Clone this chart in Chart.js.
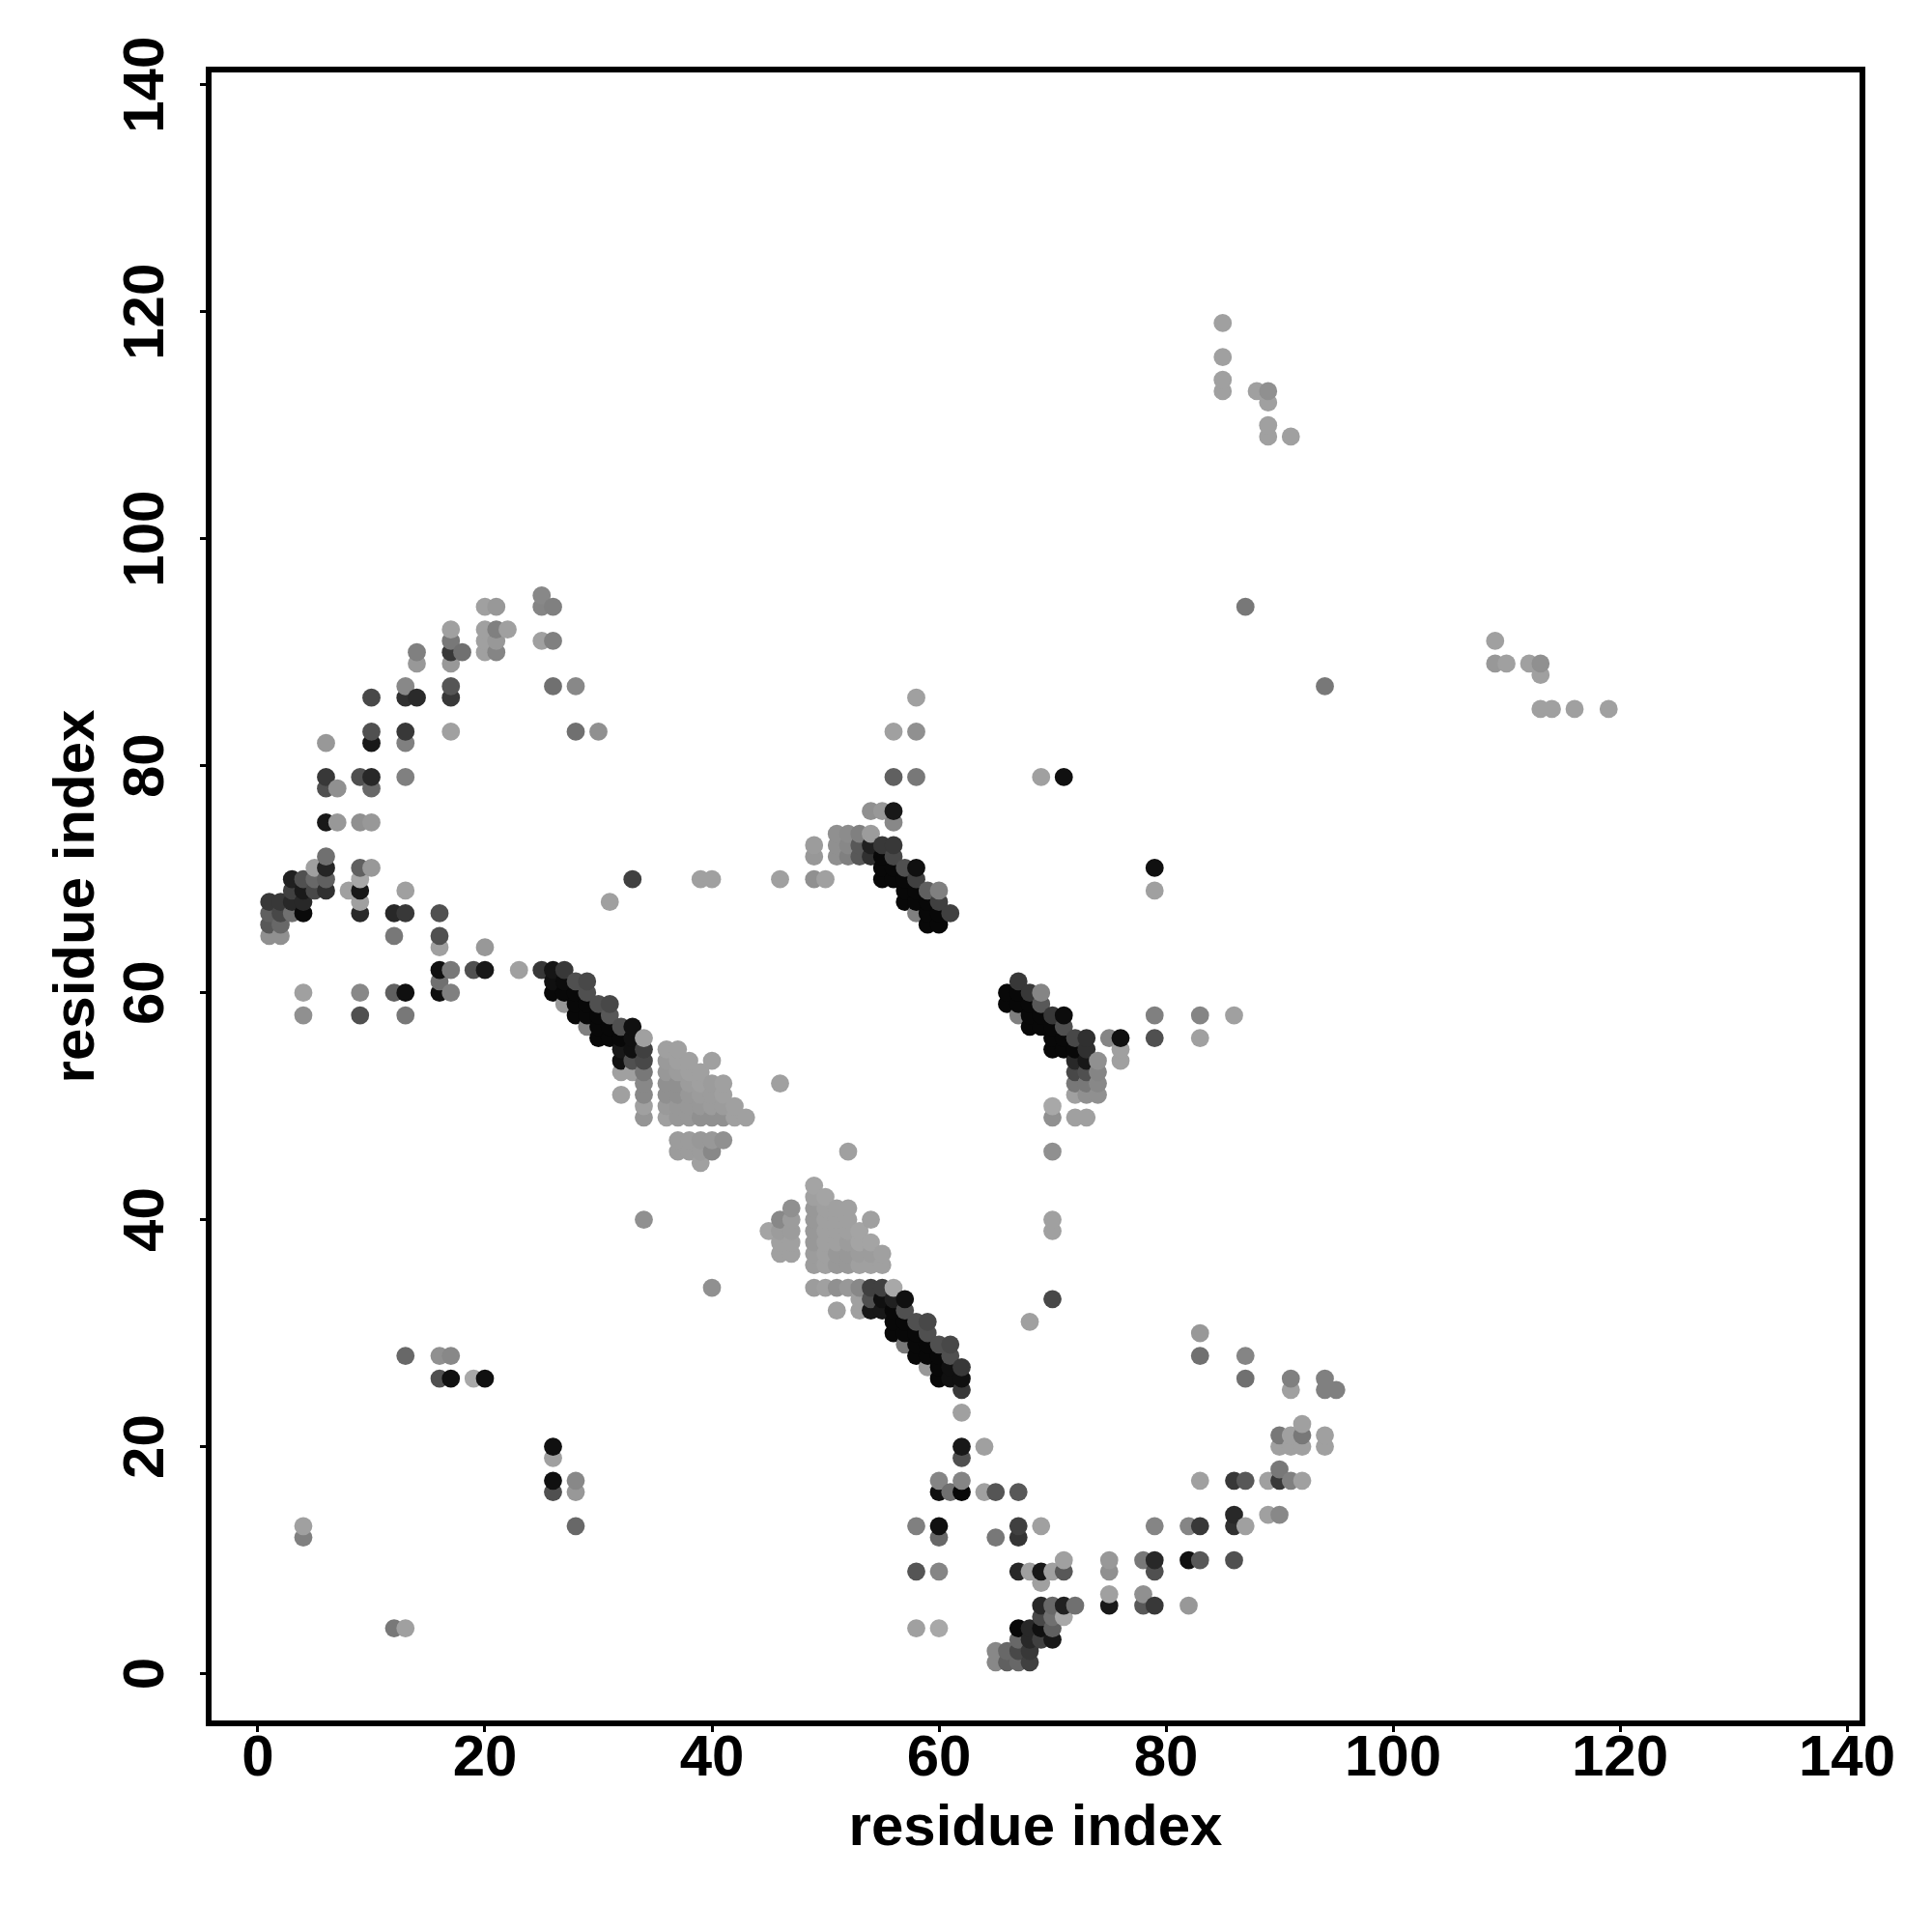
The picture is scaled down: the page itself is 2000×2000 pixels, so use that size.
<!DOCTYPE html>
<html>
<head>
<meta charset="utf-8">
<title>residue contact map</title>
<script src="https://cdn.jsdelivr.net/npm/chart.js@4/dist/chart.umd.min.js"></script>
<style>html,body{margin:0;padding:0;background:#fff}canvas{display:block}</style>
</head>
<body>
<canvas id="c" width="2000" height="2000"></canvas>
<script>
const axisTicks=[0,20,40,60,80,100,120,140];
const xLabel="residue index";
const yLabel="residue index";
const rowIndex=[
119,116,114,113,112,110,109,95,94,92,91,90,89,88,87,86,85,83,82,79,78,76,75,74,73,72,71,70,69,68,67,66,65,64,62,61,60,59,58,57,56,55,54,53,52,51,50,49,47,46,45,
43,42,41,40,39,38,37,36,34,33,32,31,30,29,28,27,26,25,23,22,21,20,19,18,17,16,14,13,12,10,9,8,7,6,5,4,3,2,1];
const rowResidues=[
[85],[85],[85],[85,88,89],[89],[89],[89,91],
[25],[20,21,25,26,87],[17,20,21,22],[17,20,21,25,26,109],[14,17,18,20,21],[14,17,109,110,112,113],[113],
[13,17,26,28,94],[10,13,14,17,58],[113,114,116,119],[10,13,17,28,30,56,58],[6,10,13],
[6,9,10,13,56,58,69,71],[6,7,10],[54,55,56],[6,7,9,10,56],[51,52,53,54],
[49,51,52,53,54,55,56],[6,49,51,52,53,54,55,56],[5,6,9,10,55,56,57,58,79],
[3,4,5,6,9,33,39,40,46,49,50,55,56,57,58],[3,4,5,6,8,9,13,57,58,59,60,79],
[1,2,3,4,9,31,57,58,59,60],[1,2,3,4,9,12,13,16,58,59,60,61],[1,2,59,60],[1,2,12,16],[16,20],
[16,17,19,20,23,25,26,27],[16,26,27,28,29,67],[4,9,12,13,16,17,26,27,28,29,66,67,68,69],
[27,28,29,30,31,66,67,68,69],[4,9,13,28,29,30,31,67,68,69,70,71,79,83,86],
[29,30,31,32,33,68,69,70,71],[30,31,32,33,34,70,71,72,73,75,76,79,83],
[32,33,34,36,37,70,71,72,73,76],[32,33,34,36,37,38,40,72,73,74,76],
[32,33,34,36,37,38,39,72,73,74],[34,36,37,38,39,40,41,46,72,73,74],
[32,34,36,37,38,39,40,41,72,73,74],[34,36,37,38,39,40,41,42,70],
[34,36,37,38,39,40,41,42,43,70,72,73],[37,38,39,40,41],[37,38,39,40,52,70],[39],
[49],[49,50],[47,49,50,51,52],[34,46,47,49,50,51,52,54,70],[45,46,47,49,50,51,52,53,70],
[46,47,49,50,51,52,53,54],[46,47,49,50,51,52,53,54,55],[49,50,51,52,53,54,55],
[40,49,50,51,52,53,54,55,56],[53,54,55,56,57,70],[51,53,54,55,56,57],[56,57,58,59,68],
[56,57,58,59,83],[57,58,59,60,61],[13,16,17,58,59,60,61,83,87],[59,60,61,62],
[16,17,19,20,60,61,62,87,91,94],[62,91,94,95],[62],[92],[90,91,92,94],
[26,62,64,90,91,92,94],[26,62],[90],[26,28,60,62,83,86,87,89,90,91,92],
[26,28,60,61,62,64,65,67],[86,89,90],[4,28,58,60,67,69,79,82,83,86,87],[4,60,65,67],
[71,75,78,79,82,83,86],[58,60,67,68,69,70,71,75,79],[69],[75,78],[69,70,71,72,75,78,79,82],
[69,70,71],[12,13,58,60,67,68,69,70],[67,68,69,70],[65,66,67,68],[65,66,67,68]];
const rowShades=[
[0xa0],[0xa0],[0xa0],[0xa0,0xa0,0x90],[0xa0],[0xa0],[0xa0,0xa0],
[0x88],[0xa0,0x98,0x85,0x80,0x78],[0xa0,0xa0,0x80,0xa0],[0x78,0xa0,0x98,0xa0,0x80,0xa0],[0x80,0x38,0x70,0xa0,0x85],[0x98,0x98,0x98,0xa0,0xa0,0x90],[0xa0],
[0x88,0x55,0x70,0x88,0x78],[0x48,0x30,0x2a,0x38,0xa0],[0xa0,0xa0,0xa0,0xa0],[0x50,0x38,0xa0,0x70,0x90,0xa0,0x90],[0x98,0x18,0x80],
[0x38,0x50,0x28,0x80,0x60,0x78,0xa0,0x10],[0x50,0x90,0x68],[0x90,0x98,0x18],[0x18,0x98,0x90,0x98,0x88],[0x90,0x8c,0x80,0x9c],
[0x9c,0x90,0x88,0x58,0x20,0x38,0x38],[0x70,0x98,0x90,0x80,0x58,0x30,0x08,0x48],[0xa0,0x25,0x60,0x98,0x08,0x08,0x50,0x10,0x10],
[0x20,0x50,0x68,0x60,0xa8,0x40,0xa0,0xa0,0xa0,0x90,0xa0,0x08,0x08,0x08,0x40],[0x40,0x1a,0x48,0x30,0xa0,0x18,0xa0,0x08,0x08,0x60,0x80,0xa0],
[0x38,0x38,0x28,0x28,0xa0,0xa0,0x08,0x08,0x08,0x40],[0x60,0x48,0x70,0x0a,0x28,0x28,0x38,0x50,0x80,0x08,0x08,0x40],[0x58,0x68,0x08,0x08],[0x90,0x90,0x78,0x50],[0xa0,0x98],
[0x10,0x78,0x50,0x18,0xa0,0x38,0x15,0x38],[0x70,0x10,0x0c,0x50,0x48,0x38],[0xa0,0x88,0x60,0x10,0x10,0x80,0x08,0x08,0x08,0x50,0x08,0x08,0x38,0x85],
[0x98,0x08,0x08,0x50,0x48,0x08,0x08,0x08,0x58],[0x90,0x50,0x78,0x08,0x08,0x08,0x58,0x80,0x08,0x08,0x38,0x0c,0x80,0x85,0xa0],
[0x80,0x08,0x08,0x50,0x10,0x08,0x08,0x08,0x50],[0x08,0x08,0x08,0x10,0xa0,0x08,0x08,0x48,0x30,0x85,0x10,0x50,0xa0],
[0x18,0x10,0x40,0xa0,0xa0,0x08,0x08,0x08,0x30,0xa0],[0x10,0x50,0x48,0x9a,0xa0,0xa0,0xa0,0x28,0x18,0x90,0xa0],
[0xa0,0xa0,0x78,0x98,0x9c,0xa0,0xa0,0x48,0x50,0x85],[0x88,0x90,0x90,0x9c,0xa0,0x9c,0xa0,0xa0,0x78,0x78,0x88],
[0xa0,0x88,0x90,0x90,0x98,0x9c,0x9c,0xa0,0xa0,0x90,0x90],[0xa0,0x9a,0x98,0x98,0x98,0x9c,0x9c,0xa0,0xa8],
[0x95,0xa0,0x98,0x98,0x90,0x90,0x90,0xa0,0xa0,0x90,0xa0,0xa0],[0x9c,0x9c,0x98,0x98,0x90],[0x9c,0x9c,0x9c,0x88,0xa0,0x90],[0xa0],
[0xa4],[0xa0,0xa4],[0x90,0x98,0xa0,0xa0,0xa0],[0x90,0x88,0x9c,0x98,0xa0,0xa0,0xa0,0xa0,0xa0],[0xa4,0x9c,0x9c,0x98,0xa0,0xa0,0xa0,0xa4,0xa0],
[0xa0,0xa0,0x98,0xa0,0xa0,0x9c,0xa4,0xa4],[0xa0,0xa0,0x9c,0xa0,0x98,0x98,0x9c,0x9c,0xa0],[0x9c,0xa0,0x98,0x98,0xa0,0xa0,0xa0],
[0x90,0x9c,0xa0,0x90,0x98,0x88,0x40,0x40,0xa8],[0xa0,0x50,0x10,0x20,0x10,0x48],[0xa0,0xa0,0x18,0x18,0x08,0x50],[0x08,0x08,0x50,0x48,0xa0],
[0x08,0x08,0x08,0x50,0x98],[0x78,0x08,0x08,0x50,0x48],[0x68,0x90,0x88,0x08,0x08,0x08,0x50,0x70,0x85],[0x98,0x08,0x10,0x38],
[0x50,0x10,0xa8,0x10,0x08,0x10,0x10,0x70,0x80,0x80],[0x38,0xa0,0x80,0x80],[0xa0],[0xa0],[0x78,0xa0,0x78,0xa0],
[0x10,0x18,0xa0,0xa0,0xa0,0xa0,0xa0],[0xa0,0x50],[0x78],[0x10,0x88,0x85,0x85,0xa0,0x38,0x58,0xa0,0x38,0x80,0xa0],
[0x50,0x98,0x10,0x70,0x08,0xa0,0x55,0x58],[0x28,0xa0,0x88],[0xa0,0x68,0x80,0x10,0x40,0xa0,0x85,0x85,0x38,0x30,0xa0],[0x80,0x68,0x78,0x35],
[0xa0,0x98,0x78,0x28,0x10,0x58,0x50],[0x55,0x85,0x28,0xa0,0x18,0xa0,0x58,0x90,0x50],[0xa0],[0xa0,0x90],[0x28,0x68,0x20,0x70,0x18,0x58,0x38,0x98],
[0x48,0x70,0xa8],[0x78,0xa0,0xa0,0xa8,0x08,0x28,0x10,0x60],[0x68,0x28,0x40,0x18],[0x88,0x68,0x48,0x38],[0x88,0x60,0x68,0x40]];

const contacts=[];
rowIndex.forEach((y,r)=>rowResidues[r].forEach((x,k)=>contacts.push({x,y,shade:rowShades[r][k]})));
contacts.sort((a,b)=>a.x-b.x||a.y-b.y);

const framePlugin={id:'frame',afterDraw(chart){
  const a=chart.chartArea,ctx=chart.ctx;
  ctx.save();ctx.strokeStyle='#000';ctx.lineWidth=6;ctx.lineJoin='miter';
  ctx.strokeRect(a.left,a.top,a.right-a.left,a.bottom-a.top);ctx.restore();
}};
const font={family:'"Liberation Sans"',size:60,weight:'bold'};
const setTicks=s=>{s.ticks=axisTicks.map(v=>({value:v}));};
new Chart(document.getElementById('c'),{
  type:'scatter',
  plugins:[framePlugin],
  data:{datasets:[{
    data:contacts.map(p=>({x:p.x,y:p.y})),
    pointRadius:9.4,pointBorderWidth:0,pointHoverRadius:9.4,
    pointBackgroundColor:contacts.map(p=>`rgb(${p.shade},${p.shade},${p.shade})`)
  }]},
  options:{
    responsive:false,animation:false,
    layout:{padding:{top:72,right:72,left:0,bottom:0}},
    plugins:{legend:{display:false},tooltip:{enabled:false},title:{display:false}},
    scales:{
      x:{type:'linear',min:-4.34,max:141.36,
        afterBuildTicks:setTicks,
        afterFit(s){s.height=216;},
        border:{display:false},
        grid:{drawOnChartArea:false,drawTicks:true,tickLength:9,tickWidth:3,tickColor:'#000'},
        ticks:{color:'#000',font,padding:-7.5,autoSkip:false,maxRotation:0,minRotation:0},
        title:{display:true,text:xLabel,color:'#000',font,padding:{top:0,bottom:71}}},
      y:{type:'linear',min:-4.38,max:141.34,
        afterBuildTicks:setTicks,
        afterFit(s){s.width=216;},
        border:{display:false},
        grid:{drawOnChartArea:false,drawTicks:true,tickLength:9,tickWidth:3,tickColor:'#000'},
        ticks:{color:'#000',font,padding:4,autoSkip:false,minRotation:90,maxRotation:90,crossAlign:'center'},
        title:{display:true,text:yLabel,color:'#000',font,padding:{top:44,bottom:0}}}
    }
  }
});
</script>
</body>
</html>
